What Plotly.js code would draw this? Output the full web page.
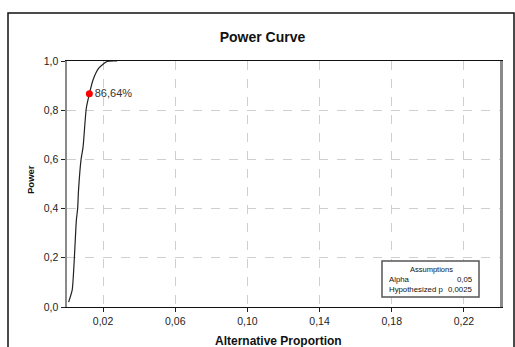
<!DOCTYPE html>
<html>
<head>
<meta charset="utf-8">
<script src="https://cdn.plot.ly/plotly-3.0.1.min.js"></script>
<style>
html,body{margin:0;padding:0;background:#fff;}
#chart{width:515px;height:347px;}
</style>
</head>
<body>
<div id="chart"></div>
<script>
// Power curve values
var proportion = [0.0009, 0.0029, 0.0037, 0.0044, 0.0052, 0.0059, 0.0064, 0.0078, 0.0089, 0.0107, 0.0124, 0.0144, 0.0176, 0.0222, 0.0278];
var power      = [0.02,   0.07,   0.15,   0.245,  0.354,  0.40,   0.476,  0.60,   0.65,   0.808,  0.8664, 0.923,  0.971,  0.998,  1.0];

// Highlighted point
var pointX = [0.0124];
var pointY = [0.8664];

var xTicks = [0.02, 0.06, 0.10, 0.14, 0.18, 0.22];
var yTicks = [0.0, 0.2, 0.4, 0.6, 0.8, 1.0];

var assumptionLabels = ["Alpha", "Hypothesized p"];
var assumptionValues = ["0,05", "0,0025"];

var FONT = "'Liberation Sans', Arial, sans-serif";

var pointText = pointY.map(function(v){ return (v*100).toFixed(2).replace('.', ',') + '%'; });

var traces = [
  {
    x: proportion, y: power, type: 'scatter', mode: 'lines',
    line: {color: '#222222', width: 1.2, shape: 'spline', smoothing: 0.6},
    hoverinfo: 'skip', showlegend: false
  },
  {
    x: pointX, y: pointY, type: 'scatter', mode: 'markers+text',
    marker: {color: '#ff0000', size: 7},
    text: pointText, textposition: 'middle right',
    textfont: {family: FONT, size: 11, color: '#333333'},
    showlegend: false
  }
];

// plot area pixel geometry (for paper-coordinate annotations)
var L = 67, R = 15, T = 61, B = 40, W = 515, H = 347;
var pw = W - L - R, ph = H - T - B;
function px(x){ return (x - L) / pw; }
function py(y){ return (H - B - y) / ph; }

var annotations = [
  {text: 'Alternative Proportion', xref: 'paper', yref: 'paper', x: px(278), y: py(341), xanchor: 'center', yanchor: 'middle', showarrow: false, font: {family: FONT, size: 12, color: '#111', weight: 'bold'}},
  {text: 'Power', xref: 'paper', yref: 'paper', x: px(30), y: py(180), xanchor: 'center', yanchor: 'middle', textangle: -90, showarrow: false, font: {family: FONT, size: 9.5, color: '#111', weight: 'bold'}},
  {text: 'Assumptions', xref: 'paper', yref: 'paper', x: px(431), y: py(269), xanchor: 'center', yanchor: 'middle', showarrow: false, font: {family: FONT, size: 7.5, color: '#111'}}
];
for (var i = 0; i < assumptionLabels.length; i++) {
  var yy = 279.5 + i * 10;
  annotations.push({text: assumptionLabels[i], xref: 'paper', yref: 'paper', x: px(387), y: py(yy), xanchor: 'left', yanchor: 'middle', showarrow: false, font: {family: FONT, size: 7.8, color: '#111'}});
  annotations.push({text: assumptionValues[i], xref: 'paper', yref: 'paper', x: px(475), y: py(yy), xanchor: 'right', yanchor: 'middle', showarrow: false, font: {family: FONT, size: 7.8, color: '#111'}});
}

var layout = {
  width: W, height: H,
  margin: {l: L, r: R, t: T, b: B, pad: 0},
  paper_bgcolor: '#ffffff', plot_bgcolor: '#ffffff',
  separators: ',.',
  font: {family: FONT, size: 10, color: '#222'},
  title: {text: 'Power Curve', font: {family: FONT, size: 14, color: '#111', weight: 'bold'},
          xref: 'paper', x: px(262.5), xanchor: 'center', yref: 'container', y: 1 - 37/H, yanchor: 'middle'},
  xaxis: {
    range: [0, 0.24], tickvals: xTicks, tickformat: '.2f',
    ticks: 'outside', ticklen: 4, tickcolor: '#222', tickwidth: 1,
    showgrid: true, gridcolor: '#cfcfcf', griddash: 'dash', gridwidth: 1,
    zeroline: false, showline: true, linecolor: '#111', linewidth: 1.3, mirror: true,
    tickfont: {family: FONT, size: 10.5, color: '#222'}, fixedrange: true
  },
  yaxis: {
    range: [0, 1], tickvals: yTicks, tickformat: '.1f',
    ticks: 'outside', ticklen: 4, tickcolor: '#222', tickwidth: 1,
    showgrid: true, gridcolor: '#cfcfcf', griddash: 'dash', gridwidth: 1,
    zeroline: false, showline: true, linecolor: '#8a8a8a', linewidth: 2.5, mirror: true,
    tickfont: {family: FONT, size: 10.5, color: '#222'}, fixedrange: true
  },
  shapes: [
    {type: 'rect', xref: 'paper', yref: 'paper', x0: px(8), x1: px(514), y0: py(420), y1: py(13), line: {color: '#111', width: 1.5}, fillcolor: 'rgba(0,0,0,0)', layer: 'above'},
    {type: 'rect', xref: 'paper', yref: 'paper', x0: px(382), x1: px(479), y0: py(297), y1: py(261), line: {color: '#555', width: 1.5}, fillcolor: '#ffffff', layer: 'above'}
  ],
  annotations: annotations,
  showlegend: false
};

Plotly.newPlot('chart', traces, layout, {displayModeBar: false, staticPlot: true});
</script>
</body>
</html>
